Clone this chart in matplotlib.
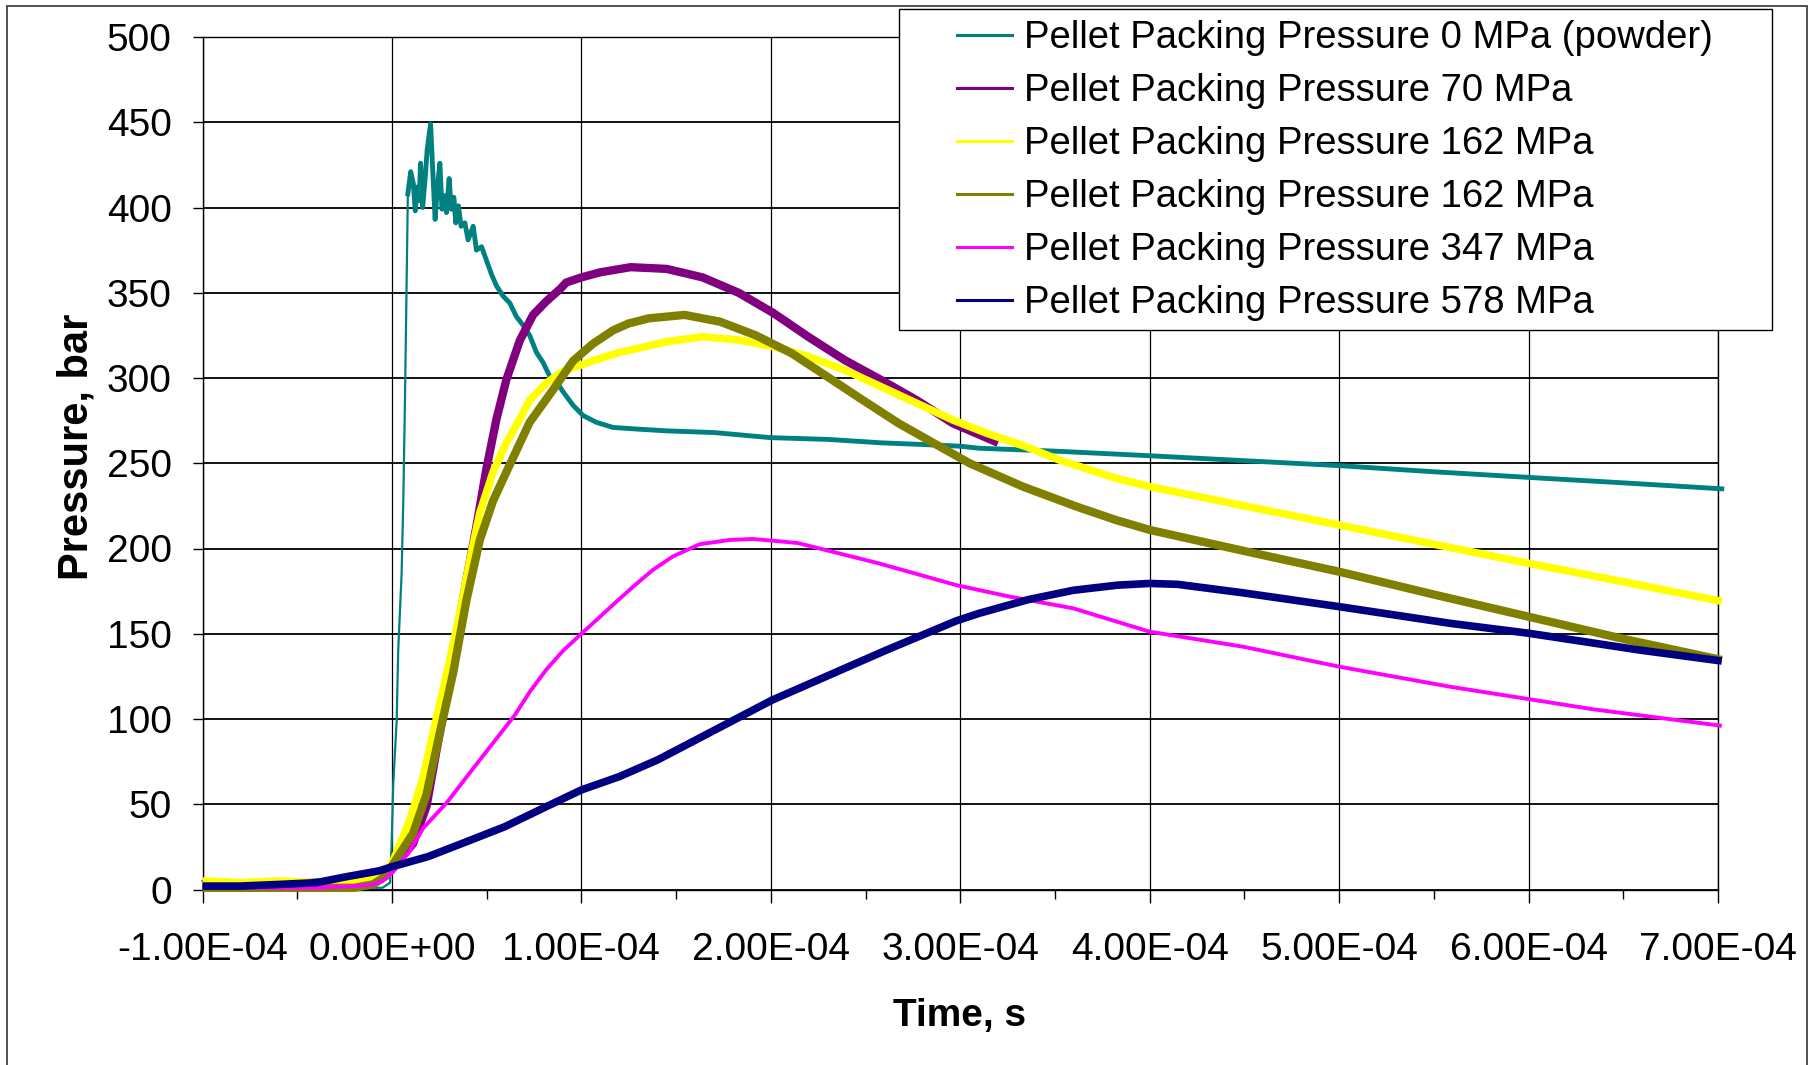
import numpy as np
import matplotlib
matplotlib.use("Agg")
import matplotlib.pyplot as plt
from matplotlib.lines import Line2D
from matplotlib.patches import Rectangle
from matplotlib.ticker import MultipleLocator, FixedLocator

plt.rcParams['font.family'] = ['Liberation Sans', 'DejaVu Sans']

# ---------------- data (time in microseconds, pressure in bar) ----------------
series_labels = [
    "Pellet Packing Pressure 0 MPa (powder)",
    "Pellet Packing Pressure 70 MPa",
    "Pellet Packing Pressure 162 MPa",
    "Pellet Packing Pressure 162 MPa",
    "Pellet Packing Pressure 347 MPa",
    "Pellet Packing Pressure 578 MPa",
]

t_p0 = [-100, -90, -80, -70, -60, -50, -40, -30, -20, -13, -5, -1, -0.2, 0.7, 2.5, 3.3,
        5.1, 6.0, 6.9, 7.7, 8.4, 9.9, 11.3, 12.3, 13.4, 14.4, 15.1, 16.2, 17.6, 18.6,
        20.4, 21.4, 22.8, 24.0, 25.3, 26.4, 27.4, 28.8, 30.2, 31.3, 32.7, 33.7, 35.1,
        36.5, 38.5, 40.2, 42.9, 44.6, 47.3, 49.9, 52.5, 55.2, 58.7, 62.2, 65.7, 69.2,
        72.7, 76.3, 79.8, 83.3, 86.8, 90.3, 95.6, 100.9, 107.9, 116.7, 130, 145, 170,
        200, 230, 258, 280, 300, 310, 352, 400, 450, 500, 550, 600, 650, 702]
p_p0 = [5, 6, 4, 6, 5, 5, 6, 5, 4, 1, 1, 4, 26, 62, 99, 140,
        185, 228, 289, 352, 408, 421, 414, 398, 412, 404, 426, 400, 418, 434,
        449, 425, 393, 412, 426, 399, 407, 397, 417, 399, 406, 391, 401,
        389, 391, 381, 389, 375, 377, 369, 361, 354, 348, 344, 336, 331,
        325, 315, 309, 301, 298, 292, 284, 278, 274, 271, 270, 269, 268,
        265, 264, 262, 261, 260, 258.8, 257, 254.4, 251.5, 248.6, 245, 241.7, 238.5, 235]

t_p70 = [-100, -80, -60, -40, -20, -10, -3, 0.7, 11.2, 18.3, 23.6, 28.8, 34.1, 39.4,
         44.6, 49.9, 55.2, 60.4, 67.5, 74.5, 81.5, 88.6, 92, 100, 110, 126, 145, 164,
         183, 201.5, 220, 239, 258, 277, 296, 320]
p_p70 = [3, 3, 4, 3, 5, 9, 11, 13, 27, 49, 82, 113, 148, 182,
         213, 247, 276, 299, 322, 337, 345, 352, 356, 359, 362, 365, 364, 359,
         350, 338, 324, 310.5, 299, 287, 273.5, 262]

t_p162a = [-100, -80, -60, -40, -20, -10, -3, 0.7, 9.5, 16.5, 23.6, 30.6, 35.8, 41.1,
           46.4, 53.4, 60.4, 67.5, 72.7, 81.5, 88.6, 92, 102.6, 107.4, 120, 126, 145,
           164, 183, 201.5, 220, 239, 258, 277, 296, 314, 334.8, 352, 382, 400, 450, 500,
           550, 600, 650, 702]
p_p162a = [5, 4, 5, 4, 4, 6, 10, 17, 41, 66, 101, 135, 162, 193,
           221, 245, 262, 276, 287, 297, 302.8, 304.7, 308.7, 310.6, 315, 316.4, 321.3,
           324.2, 322.3, 318.4, 312.5, 304.7, 295, 285.2, 275.4, 267.6, 259.7, 252, 241.3,
           236.3, 225, 213.8, 202.5, 191.3, 180.5, 169]

t_p162b = [-100, -80, -60, -40, -20, -10, -3, 0.7, 11.2, 18.3, 25.3, 32.3, 39.4, 46.4,
           53.4, 61.3, 72.7, 85, 95.6, 106, 116.8, 125, 135.6, 154.5, 173.3, 192.1,
           211, 229.8, 248.6, 267.5, 286.3, 305.1, 333.3, 361.6, 382.2, 400, 450, 500,
           550, 600, 650, 702]
p_p162b = [1, 1, 1, 1, 1, 3, 8, 15, 33, 56, 92, 127, 170, 205,
           228, 247, 274, 293, 310, 320, 328, 332, 335, 337, 333, 325,
           314.5, 300.8, 287, 273.4, 261.6, 249.9, 236.2, 224.5, 216.7, 210.9, 198.5, 186.4,
           173, 160, 147, 134.6]

t_p347 = [-100, -80, -60, -40, -20, -10, -5, 0.7, 9, 16.5, 29, 39.4, 49.9, 65, 72.8,
          81.5, 90.3, 100, 107.9, 116.7, 127.2, 137.8, 148.4, 162.4, 178.2, 190.5, 204.6,
          214.2, 257, 298, 326, 359.7, 400, 449.3, 500, 558.7, 634.7, 702]
p_p347 = [1, 1, 1, 1, 2, 3, 5, 10.5, 22, 36, 51, 66, 81, 102.5, 116,
          129, 140, 150, 158, 167, 177.5, 187.5, 195.4, 202.5, 205, 205.6, 204.2,
          203.2, 191.3, 178.5, 171.8, 164.9, 151.2, 142.4, 130.7, 118.9, 105.6, 96]

t_p578 = [-100, -80, -59, -40, -24, -6.5, -1, 19.1, 39.3, 59.5, 79.6, 100, 120, 140.2,
          160.4, 180.5, 200.7, 220.9, 241, 261.2, 298, 310, 335.8, 359.7, 383, 400,
          414.6, 449.3, 500, 558.7, 600, 658.3, 702]
p_p578 = [2, 2, 3, 4, 7.5, 11, 13, 19.3, 28, 36.8, 47.6, 58.4, 66.2, 76,
          87.7, 99.4, 111.1, 120.9, 130.7, 140.5, 157.6, 162, 170, 175.5, 178.5, 179.5,
          179, 174, 165.9, 156.1, 150.3, 140.5, 134]

xtick_values = [-1e-4, 0.0, 1e-4, 2e-4, 3e-4, 4e-4, 5e-4, 6e-4, 7e-4]
xtick_labels = ["-1.00E-04", "0.00E+00", "1.00E-04", "2.00E-04", "3.00E-04",
                "4.00E-04", "5.00E-04", "6.00E-04", "7.00E-04"]
ytick_values = [0, 50, 100, 150, 200, 250, 300, 350, 400, 450, 500]

series_t = [t_p0, t_p70, t_p162a, t_p162b, t_p347, t_p578]
series_p = [p_p0, p_p70, p_p162a, p_p162b, p_p347, p_p578]
colors = ["#008080", "#800080", "#FFFF00", "#808000", "#FF00FF", "#000080"]
widths = [3.5, 6.0, 5.5, 6.0, 2.8, 5.5]

# ---------------- figure ----------------
W, H = 1816, 1065
fig = plt.figure(figsize=(W / 100, H / 100), dpi=100)
L, R, T, B = 202.5, 1718, 37, 889.5
ax = fig.add_axes([L / W, 1 - B / H, (R - L) / W, (B - T) / H])

for i, (t, p, c, lw) in enumerate(zip(series_t, series_p, colors, widths)):
    ts = np.array(t) * 1e-6
    ps = np.array(p, dtype=float)
    if i == 0:
        # thin trace through the sharp rise, thicker noisy band afterwards
        k = t.index(8.4)
        ax.plot(ts[:k + 1], ps[:k + 1], color=c, lw=1.6, clip_on=False, zorder=3)
        ax.plot(ts[k:], ps[k:], color=c, lw=lw, solid_joinstyle='round',
                clip_on=False, zorder=3)
    else:
        ax.plot(ts, ps, color=c, lw=lw, solid_joinstyle='round',
                solid_capstyle='butt', clip_on=False, zorder=3)

ax.set_xlim(-1e-4, 7e-4)
ax.set_ylim(0, 500)
ax.xaxis.set_major_locator(FixedLocator(xtick_values))
ax.set_xticklabels(xtick_labels)
ax.xaxis.set_minor_locator(MultipleLocator(0.5e-4))
ax.set_yticks(ytick_values)
ax.grid(True, axis='y', which='major', color='black', lw=1.3, zorder=1)
ax.grid(True, axis='x', which='major', color='black', lw=0.9, zorder=1)
ax.set_axisbelow(True)
for s in ax.spines.values():
    s.set_color('black')
    s.set_linewidth(1.0)

ax.tick_params(axis='x', which='major', direction='out', length=9.4, width=1.0,
               pad=21, labelsize=28)
ax.tick_params(axis='x', which='minor', direction='out', length=6.3, width=1.0)
ax.tick_params(axis='y', which='major', direction='out', length=7.2, width=1.0,
               pad=15, labelsize=28)

fig.text(960 / W, 1 - 1026 / H, "Time, s", ha='center', va='baseline',
         fontsize=28, fontweight='bold')
fig.text(77 / W, 1 - 447 / H, "Pressure, bar", ha='center', va='center',
         rotation=90, fontsize=30, fontweight='bold')

# legend box
fig.add_artist(Rectangle((899 / W, 1 - 330 / H), (1772 - 899) / W, (330 - 9) / H,
                         transform=fig.transFigure, facecolor='white',
                         edgecolor='black', lw=1.0, zorder=5))
handles = [Line2D([], [], color=c, lw=2.2) for c in colors]
fig.legend(handles, series_labels, loc='upper left',
           bbox_to_anchor=(957 / W, 1 - 20 / H), frameon=False, borderpad=0,
           borderaxespad=0, handlelength=1.45, handletextpad=0.3,
           labelspacing=0.445, fontsize=27.5).set_zorder(6)

# outer chart border
fig.add_artist(Rectangle((7 / W, -0.05), (1807 - 7) / W, 1.05 - 6 / H,
                         transform=fig.transFigure, fill=False,
                         edgecolor='#404040', lw=1.3, zorder=10))

fig.savefig("out.png", dpi=100, facecolor='white')
